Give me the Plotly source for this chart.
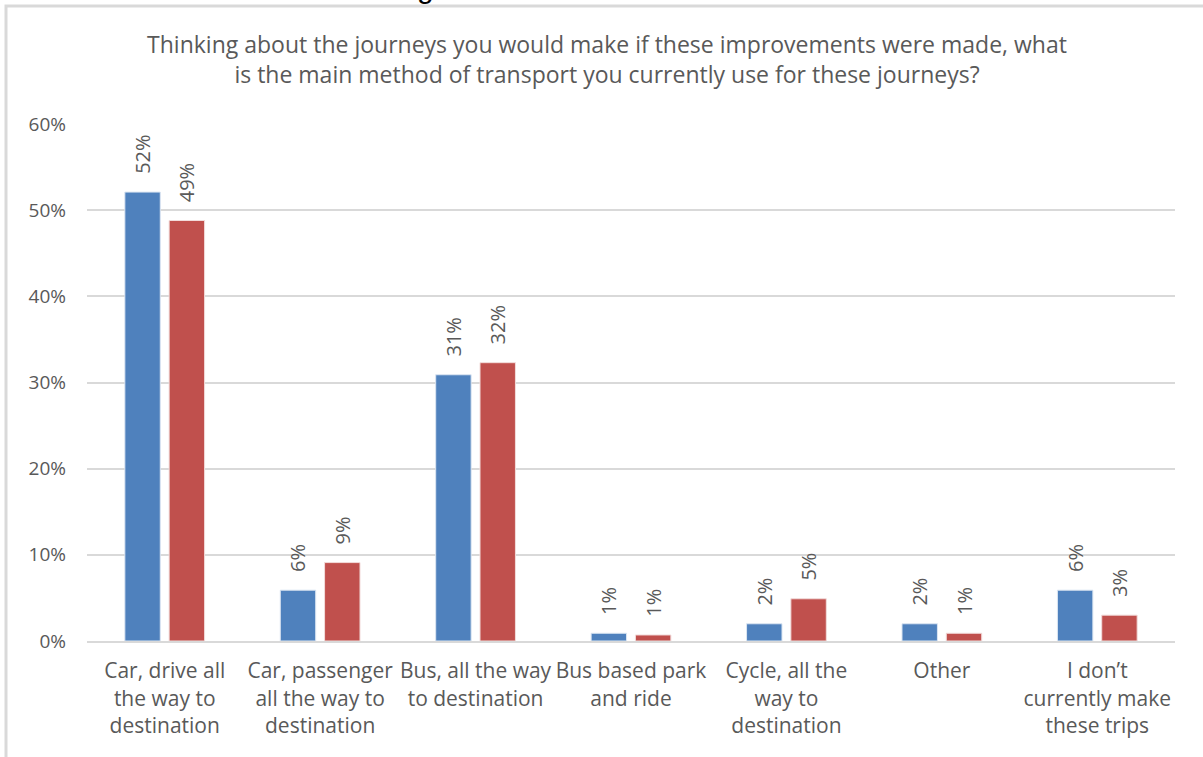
import plotly.graph_objects as go

categories = [
    "Car, drive all<br>the way to<br>destination",
    "Car, passenger<br>all the way to<br>destination",
    "Bus, all the way<br>to destination",
    "Bus based park<br>and ride",
    "Cycle, all the<br>way to<br>destination",
    "Other",
    "I don\u2019t<br>currently make<br>these trips",
]
series_a = [52.1, 5.9, 30.9, 0.9, 2.0, 2.0, 5.9]
series_b = [48.8, 9.1, 32.3, 0.7, 4.9, 0.9, 3.0]
labels_a = ["52%", "6%", "31%", "1%", "2%", "2%", "6%"]
labels_b = ["49%", "9%", "32%", "1%", "5%", "1%", "3%"]
title_text = ("Thinking about the journeys you would make if these improvements were made, what<br>"
              "is the main method of transport you currently use for these journeys?")

font_family = "Open Sans, Noto Sans, sans-serif"
grey = "#595959"

W, H = 1203, 757
L, R, T, B = 87, 28, 124, 116
ph = H - T - B
pw = W - L - R

fig = go.Figure()
for vals, labs, col, edge in [(series_a, labels_a, "#4F81BD", "#DCE6F2"),
                              (series_b, labels_b, "#C0504D", "#F2DCDB")]:
    fig.add_trace(go.Bar(
        x=categories, y=vals, text=labs,
        texttemplate="\u2002\u00a0%{text}",
        marker=dict(color=col, line=dict(color=edge, width=1)),
        textposition="outside", textangle=-90, constraintext="none",
        textfont=dict(size=20, color=grey, family=font_family),
        cliponaxis=False,
    ))

fig.update_layout(
    width=W, height=H,
    margin=dict(l=L, r=R, t=T, b=B),
    paper_bgcolor="white", plot_bgcolor="white",
    showlegend=False,
    barmode="group", bargap=0.43, bargroupgap=0.2,
    title=dict(text=title_text, x=607 / W, xanchor="center", xref="container",
               y=1 - 53 / H, yanchor="top", yref="container",
               font=dict(size=23, color=grey, family=font_family)),
    font=dict(family=font_family, color=grey),
    uniformtext=dict(mode=False),
)
fig.update_yaxes(
    range=[0, 60], dtick=10, ticksuffix="%",
    showgrid=True, gridcolor="#D9D9D9", gridwidth=2,
    zeroline=False, showline=False,
    tickfont=dict(size=19, color=grey, family=font_family),
    ticklabelstandoff=20,
)
fig.update_xaxes(
    showline=True, linecolor="#D9D9D9", linewidth=2,
    tickfont=dict(size=21, color=grey, family=font_family),
    ticklabelstandoff=10,
)
# chart border (top and left edges visible)
fig.add_shape(type="rect", xref="paper", yref="paper",
              x0=(6 - L) / pw, x1=(W + 20 - L) / pw,
              y0=1 - (H + 20 - T) / ph, y1=1 + (T - 6) / ph,
              line=dict(color="#D9D9D9", width=3), layer="below")
# fragment of a heading above the chart, cut off at the top edge
fig.add_annotation(text="g", xref="paper", yref="paper",
                   x=(425 - L) / pw, y=1 + (T - 6) / ph,
                   xanchor="center", yanchor="bottom", showarrow=False,
                   font=dict(size=30, color="black", family="Liberation Sans, Arial, sans-serif"))

fig.write_html("out.html", config={"displayModeBar": False},
               post_script="document.body.style.margin='0';")
